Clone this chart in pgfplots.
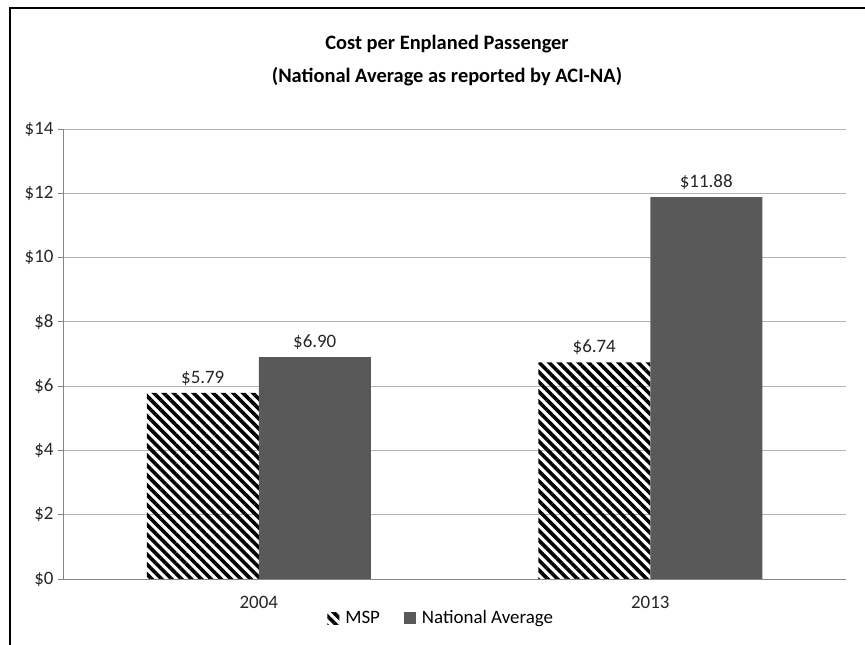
\documentclass[border=0pt]{standalone}
\usepackage{pgfplots}
\pgfplotsset{compat=1.18}
\usepackage{fontspec}
\setmainfont{Carlito}
\usetikzlibrary{patterns.meta}

\definecolor{natgray}{HTML}{595959}
\definecolor{gridgray}{HTML}{B4B4B4}
\definecolor{axisgray}{HTML}{868686}

\begin{document}
\begin{tikzpicture}[x=1bp,y=1bp]
\useasboundingbox (0,0) rectangle (865,645);
% outer chart frame (left and top only, the rest is cropped)
\draw[line width=1.2bp] (10,0) -- (10,637) -- (865,637);

\node[font=\bfseries\fontsize{20.5}{33}\selectfont, align=center, anchor=center] at (447,584)
  {Cost per Enplaned Passenger\\(National Average as reported by ACI-NA)};

\begin{axis}[
    at={(63bp,66bp)}, anchor=south west,
    scale only axis,
    width=783bp, height=450bp,
    ybar=0pt, bar width=112bp,
    xmin=-0.5, xmax=1.5,
    ymin=0, ymax=14,
    xtick={0,1},
    xticklabels={2004,2013},
    xtick style={draw=none},
    extra x ticks={0.5,1.5},
    extra x tick labels={},
    extra x tick style={grid=none, tick style={draw=axisgray, line width=0.8bp}},
    ytick={0,2,4,6,8,10,12,14},
    yticklabel={\$\pgfmathprintnumber{\tick}},
    ytick style={draw=axisgray, line width=0.8bp},
    tick align=outside,
    major tick length=5bp,
    axis x line*=bottom, axis y line*=left,
    axis line style={draw=axisgray, line width=0.8bp},
    ymajorgrids=true,
    grid style={draw=gridgray, line width=0.8bp},
    /pgf/number format/assume math mode=true,
    tick label style={font=\fontsize{19}{22}\selectfont, text=black!85},
    yticklabel style={xshift=-1bp},
    xticklabel style={yshift=-9bp},
    nodes near coords={\$\pgfmathprintnumber[fixed,fixed zerofill,precision=2]{\pgfplotspointmeta}},
    every node near coord/.append style={font=\fontsize{19}{22}\selectfont, text=black!85, yshift=4bp},
    legend style={at={(axis description cs:0.483,-0.087)}, anchor=center,
        draw=none, legend columns=2, font=\fontsize{19}{22}\selectfont,
        /tikz/every even column/.append style={column sep=22bp}},
    legend image code/.code={\fill[#1] (0bp,-6bp) rectangle (12bp,6bp); \path (16bp,0bp);},
]
\addplot[draw=none, pattern={Lines[angle=-45, distance=7bp, line width=3.6bp]}, pattern color=black]
  coordinates {(0,5.79) (1,6.74)};
\addplot[draw=none, fill=natgray]
  coordinates {(0,6.90) (1,11.88)};
\legend{MSP, National Average}
\end{axis}
\end{tikzpicture}
\end{document}
